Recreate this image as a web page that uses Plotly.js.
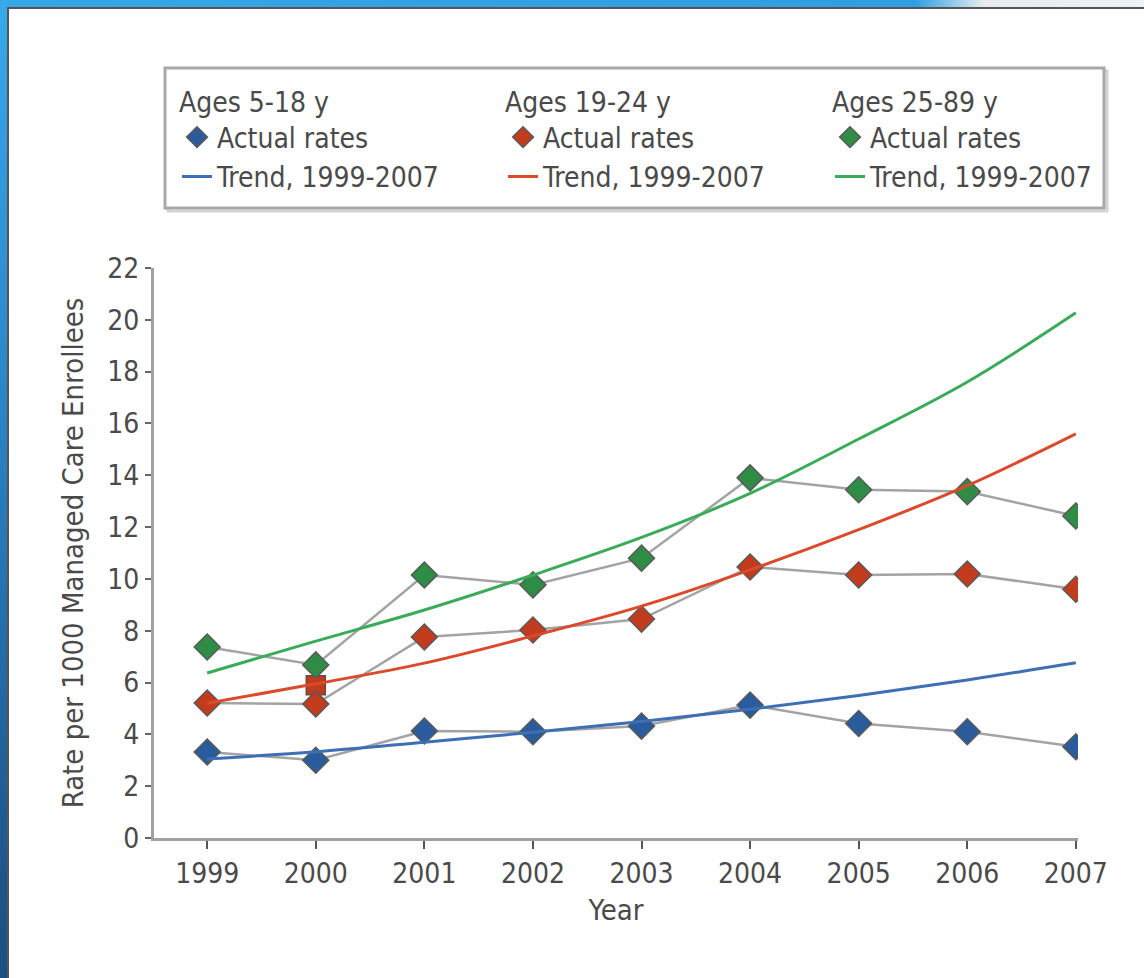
<!DOCTYPE html>
<html>
<head>
<meta charset="utf-8">
<script src="https://cdn.plot.ly/plotly-3.0.1.min.js"></script>
<style>
  html, body { margin: 0; padding: 0; background: #ffffff; }
  #chart { position: absolute; left: 0; top: 0; width: 1144px; height: 978px; }
  .strip-top { position: absolute; left: 0; top: 0; width: 1144px; height: 7px;
    background: linear-gradient(to right, #35a6e6 0%, #2f9ee2 80%, #e6ecf0 86%, #eef2f5 100%); z-index: 5; }
  .strip-left { position: absolute; left: 0; top: 0; width: 7px; height: 978px;
    background: linear-gradient(to bottom, #37a9ea 0%, #2b86c9 40%, #1f5a91 85%, #1c4f82 100%); z-index: 5; }
  .line-top { position: absolute; left: 7px; top: 7px; width: 1137px; height: 2px; background: #555; z-index: 5; }
  .line-left { position: absolute; left: 7px; top: 7px; width: 2px; height: 971px; background: #555; z-index: 5; }
</style>
</head>
<body>
<div id="chart"></div>
<div class="strip-top"></div>
<div class="strip-left"></div>
<div class="line-top"></div>
<div class="line-left"></div>
<script>
const years = [1999, 2000, 2001, 2002, 2003, 2004, 2005, 2006, 2007];

const actual5to18  = [3.32, 3.0, 4.13, 4.1, 4.32, 5.13, 4.42, 4.1, 3.52];
const trend5to18   = [3.05, 3.33, 3.7, 4.08, 4.5, 4.97, 5.5, 6.1, 6.76];

const actual19to24 = [5.21, 5.17, 7.76, 8.03, 8.45, 10.46, 10.15, 10.19, 9.6];
const trend19to24  = [5.2, 5.95, 6.75, 7.8, 8.95, 10.35, 11.9, 13.6, 15.6];

const actual25to89 = [7.37, 6.68, 10.15, 9.77, 10.8, 13.9, 13.44, 13.37, 12.43];
const trend25to89  = [6.37, 7.6, 8.8, 10.15, 11.6, 13.3, 15.4, 17.6, 20.27];

const extraYear = [2000];
const extraValue = [5.9];

const groupTitles = ['Ages 5-18 y', 'Ages 19-24 y', 'Ages 25-89 y'];
const actualLabel = 'Actual rates';
const trendLabel = 'Trend, 1999-2007';
const yTicks = [0, 2, 4, 6, 8, 10, 12, 14, 16, 18, 20, 22];

const FONT = '"Liberation Sans Narrow", "Arial Narrow", "DejaVu Sans Condensed", sans-serif';
const TXT = '#4a4a4a';
const FS = 28;

const markerColors = ['#2a5b9c', '#c23b1c', '#2f8c45'];
const trendColors = ['#3e6fb5', '#dc4a2c', '#3aab58'];
const legends = ['legend', 'legend2', 'legend3'];
const actuals = [actual5to18, actual19to24, actual25to89];
const trends = [trend5to18, trend19to24, trend25to89];

const traces = [];
for (let i = 0; i < 3; i++) {
  traces.push({
    x: years, y: actuals[i], type: 'scatter', mode: 'lines',
    line: { color: '#a3a3a3', width: 2.5 }, showlegend: false, hoverinfo: 'skip'
  });
}
traces.push({
  x: extraYear, y: extraValue, type: 'scatter', mode: 'markers',
  marker: { symbol: 'square', size: 19, color: markerColors[1], line: { color: '#6a4a40', width: 1.5 } },
  showlegend: false
});
for (let i = 0; i < 3; i++) {
  traces.push({
    x: years, y: actuals[i], type: 'scatter', mode: 'markers', name: actualLabel,
    legend: legends[i],
    marker: { symbol: 'diamond', size: 20, color: markerColors[i], line: { color: '#5a5a5a', width: 1.5 } }
  });
}
for (let i = 0; i < 3; i++) {
  traces.push({
    x: years, y: trends[i], type: 'scatter', mode: 'lines', name: trendLabel,
    legend: legends[i],
    line: { color: trendColors[i], width: 3, shape: 'spline' }
  });
}

const L = 154, R = 66, T = 268, B = 140;
const W = 1144 - L - R, H = 978 - T - B;
const px = v => (v - L) / W;
const py = v => (978 - B - v) / H;

function legendAt(xpix, title) {
  return {
    x: px(xpix), y: py(76), xanchor: 'left', yanchor: 'top',
    bgcolor: 'rgba(0,0,0,0)', borderwidth: 0, itemsizing: 'trace',
    font: { family: FONT, size: FS, color: TXT },
    title: { text: title, font: { family: FONT, size: FS, color: TXT }, side: 'top' },
    tracegroupgap: 0, itemwidth: 30
  };
}

const layout = {
  width: 1144, height: 978,
  margin: { l: L, r: R, t: T, b: B, pad: 0 },
  paper_bgcolor: '#ffffff', plot_bgcolor: '#ffffff',
  font: { family: FONT, size: FS, color: TXT },
  showlegend: true,
  legend: legendAt(177, groupTitles[0]),
  legend2: legendAt(503, groupTitles[1]),
  legend3: legendAt(830, groupTitles[2]),
  xaxis: {
    range: [1998.51, 2007.02], tickvals: years, ticktext: years.map(String),
    showgrid: false, zeroline: false, showline: true, linecolor: '#a0a0a0', linewidth: 3,
    ticks: 'outside', ticklen: 8, tickwidth: 2, tickcolor: '#555',
    tickfont: { family: FONT, size: FS, color: TXT },
    title: { text: 'Year', font: { family: FONT, size: 29, color: TXT }, standoff: 12 },
    fixedrange: true
  },
  yaxis: {
    range: [0, 22], tickvals: yTicks,
    showgrid: false, zeroline: false, showline: true, linecolor: '#a0a0a0', linewidth: 3,
    ticks: 'outside', ticklen: 6, tickwidth: 2, tickcolor: '#666',
    tickfont: { family: FONT, size: FS, color: TXT },
    title: { text: 'Rate per 1000 Managed Care Enrollees', font: { family: FONT, size: 29, color: TXT }, standoff: 16 },
    fixedrange: true
  },
  shapes: [
    { type: 'rect', xref: 'paper', yref: 'paper', x0: px(168), x1: px(1107), y0: py(211), y1: py(71),
      line: { color: '#d4d4d4', width: 3 }, fillcolor: 'rgba(0,0,0,0)', layer: 'below' },
    { type: 'rect', xref: 'paper', yref: 'paper', x0: px(165), x1: px(1104), y0: py(208), y1: py(68),
      line: { color: '#a8a8a8', width: 3 }, fillcolor: '#ffffff', layer: 'below' }
  ]
};

Plotly.newPlot('chart', traces, layout, { displayModeBar: false, staticPlot: true });
</script>
</body>
</html>
